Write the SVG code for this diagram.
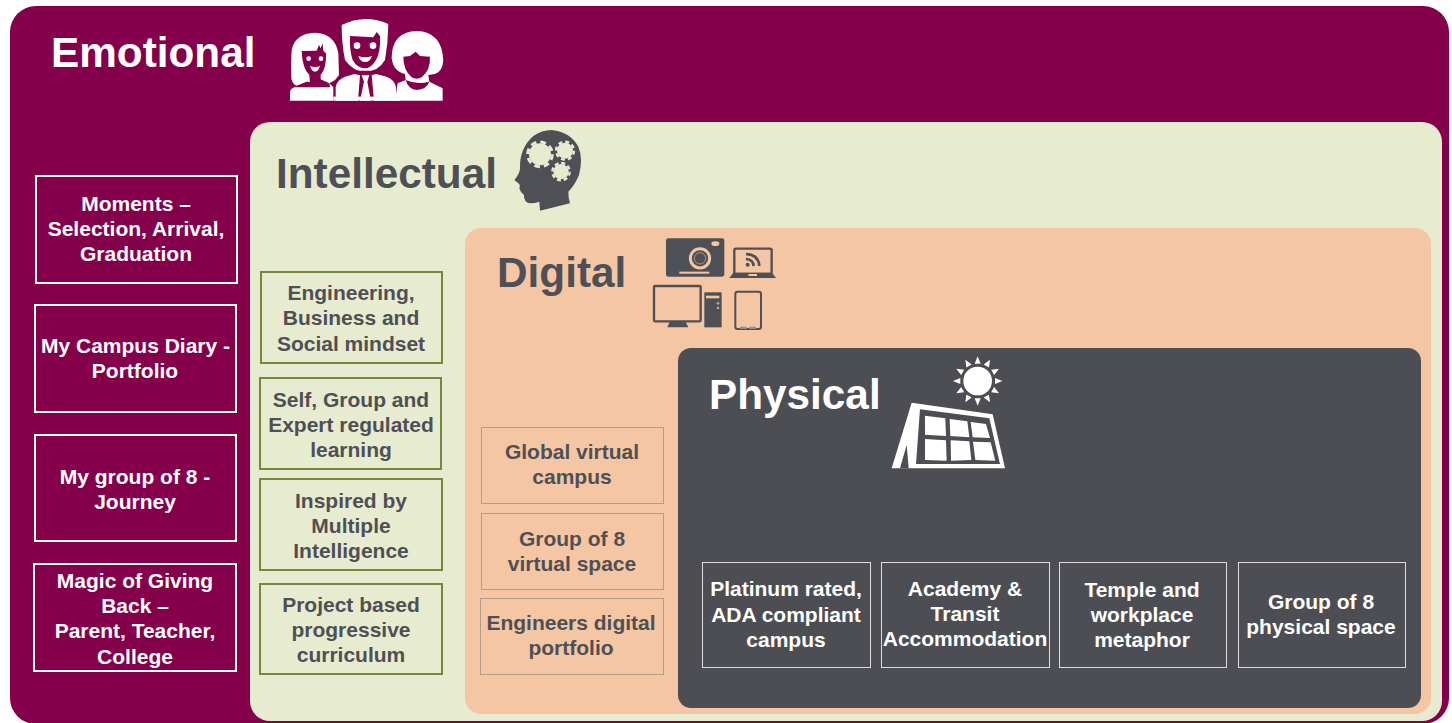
<svg xmlns="http://www.w3.org/2000/svg" width="1452" height="723" viewBox="0 0 1452 723">
<defs>
<style>
text{font-family:"Liberation Sans",Arial,sans-serif;font-weight:bold;text-anchor:middle}
.h{font-size:42.3px;text-anchor:start}
.t{font-size:21px}
.w{fill:#fff}
.d{fill:#4f5055}
.bw{fill:none;stroke:#fff;stroke-width:2}
.bg{fill:none;stroke:#76893a;stroke-width:2}
.bp{fill:none;stroke:#b39c88;stroke-width:1;transform:translate(.5px,.5px)}
.bs{fill:none;stroke:#dcdcde;stroke-width:1;transform:translate(.5px,.5px)}
</style>
<polygon id="ray" points="-9,-52 9,-52 0,-74" fill="#fff"/>
</defs>
<rect width="1452" height="723" fill="#fff"/>
<g id="emotional">
<rect x="10" y="6" width="1439" height="718" rx="26" fill="#85004b"/>
<text class="h w" x="51" y="67">Emotional</text>
<g transform="translate(270,0) scale(.3333)">
<path class="w" d="M60 302V275Q62 265 80 258Q66 250 64 235Q62 190 65 150Q75 100 135 98Q195 100 205 160L207 225L195 240L178 250L190 262V302Z"/>
<path fill="#85004b" d="M95 153L140 152L147 135L152 145L158 130L160 152L168 160Q170 205 152 225L152 238L178 250L120 250L118 225Q97 205 95 153Z"/>
<path fill="#85004b" d="M68 262L180 262L178 250L110 245Z"/>
<circle class="w" cx="116" cy="176" r="7"/><circle class="w" cx="153" cy="176" r="7"/>
<path class="w" d="M120 198Q135 204 150 198Q145 215 135 215Q125 215 120 198Z"/>
<path class="w" d="M215 75Q285 40 355 72L352 130L345 180Q325 215 285 215Q250 215 225 180Q215 130 215 75Z"/>
<path fill="#85004b" d="M240 108L310 112L320 96L330 108Q333 160 315 185Q300 205 285 205Q262 205 248 180Q238 150 240 108Z"/>
<circle class="w" cx="261" cy="137" r="10"/><circle class="w" cx="309" cy="137" r="10"/>
<path class="w" d="M265 168Q285 175 306 168Q300 186 285 186Q271 186 265 168Z"/>
<path fill="#85004b" d="M195 302V250Q200 225 250 212L320 212L385 235V302Z"/>
<path class="w" d="M197 302V262Q200 240 225 230L253 222L270 226L264 302ZM378 302V262Q375 240 350 230L318 222L305 226L312 302ZM275 226H298L292 245L303 302H270L282 245Z"/>
<rect class="w" x="190" y="290" width="200" height="12"/>
<path class="w" d="M365 175Q365 95 440 93Q515 95 520 180Q518 215 495 222L475 225L478 245L518 265V302H375L383 250L407 240L405 222Q370 215 365 175Z"/>
<path fill="#85004b" d="M400 170L420 168L437 155L450 168L480 170Q482 210 455 232Q440 240 425 232Q400 210 400 170Z"/>
<path fill="#85004b" d="M407 240Q440 255 478 245Q470 268 440 270Q415 268 407 240Z"/>
</g>
<g id="e1"><rect class="bw" x="36" y="176" width="201" height="107"/>
<text class="t w" x="136" y="211">Moments –</text><text class="t w" x="136" y="236">Selection, Arrival,</text><text class="t w" x="136" y="261">Graduation</text></g>
<g id="e2"><rect class="bw" x="35" y="305" width="201" height="107"/>
<text class="t w" x="135.500" y="353">My Campus Diary -</text><text class="t w" x="135" y="378">Portfolio</text></g>
<g id="e3"><rect class="bw" x="35" y="435" width="201" height="106"/>
<text class="t w" x="135" y="484">My group of 8 -</text><text class="t w" x="135" y="509">Journey</text></g>
<g id="e4"><rect class="bw" x="34" y="564" width="202" height="107"/>
<text class="t w" x="135" y="588">Magic of Giving</text><text class="t w" x="135" y="613">Back –</text><text class="t w" x="135" y="638">Parent, Teacher,</text><text class="t w" x="135" y="664">College</text></g>
</g>
<g id="intellectual">
<rect x="250" y="122" width="1192" height="599" rx="20" fill="#e7ebd0"/>
<text class="h d" x="276" y="188">Intellectual</text>
<g transform="translate(500,120) scale(.3333)">
<path class="d" d="M120 272L118 245Q90 255 78 245Q70 235 72 225Q60 215 58 205Q62 195 55 190L43 180Q60 160 60 145Q58 85 100 48Q125 30 155 30Q210 35 235 80Q250 115 237 165Q225 195 205 215Q205 235 210 250Z"/>
<g fill="#e7ebd0" stroke="#e7ebd0">
<circle cx="120" cy="103" r="33" stroke="none"/><circle cx="120" cy="103" r="37" fill="none" stroke-width="9" stroke-dasharray="17 12.060"/>
<circle cx="195" cy="92" r="24" stroke="none"/><circle cx="195" cy="92" r="27" fill="none" stroke-width="7" stroke-dasharray="12 9.200"/>
<circle cx="183" cy="155" r="23" stroke="none"/><circle cx="183" cy="155" r="26" fill="none" stroke-width="7" stroke-dasharray="12 8.420"/>
</g>
</g>
<g id="i1"><rect class="bg" x="261" y="272" width="181" height="91"/>
<text class="t d" x="351" y="300">Engineering,</text><text class="t d" x="351" y="325">Business and</text><text class="t d" x="351" y="351">Social mindset</text></g>
<g id="i2"><rect class="bg" x="260" y="378" width="181" height="91"/>
<text class="t d" x="351" y="407">Self, Group and</text><text class="t d" x="351" y="432">Expert regulated</text><text class="t d" x="351" y="457">learning</text></g>
<g id="i3"><rect class="bg" x="260" y="479" width="182" height="91"/>
<text class="t d" x="351" y="508">Inspired by</text><text class="t d" x="351" y="533">Multiple</text><text class="t d" x="351" y="558">Intelligence</text></g>
<g id="i4"><rect class="bg" x="260" y="584" width="182" height="90"/>
<text class="t d" x="351" y="612">Project based</text><text class="t d" x="351" y="637">progressive</text><text class="t d" x="351" y="662">curriculum</text></g>
</g>
<g id="digital">
<rect x="465" y="228" width="966" height="486" rx="16" fill="#f4c6a4"/>
<text class="h d" x="497" y="287">Digital</text>
<g transform="translate(640,230) scale(.3333)">
<rect class="d" x="78" y="25" width="175" height="115" rx="7"/>
<circle cx="180" cy="85" r="29" fill="none" stroke="#f4c6a4" stroke-width="9"/>
<circle cx="180" cy="85" r="17" fill="none" stroke="#a89489" stroke-width="3"/>
<ellipse cx="226" cy="41" rx="12" ry="7" fill="#f4c6a4"/>
<rect x="118" y="125" width="90" height="6" fill="#f4c6a4"/>
<rect x="283" y="56" width="112" height="76" rx="5" fill="none" stroke="#4f5055" stroke-width="7"/>
<path class="d" d="M280 128H396L408 144H268Z"/>
<rect x="325" y="132" width="26" height="6" fill="#f4c6a4"/>
<circle class="d" cx="323" cy="104" r="6"/>
<path d="M318 87Q339 88 341 108M318 72Q356 74 358 108" fill="none" stroke="#4f5055" stroke-width="8"/>
<rect x="42" y="168" width="140" height="106" rx="3" fill="none" stroke="#4f5055" stroke-width="7"/>
<path class="d" d="M90 274H136L145 292H82Z"/>
<rect class="d" x="193" y="187" width="52" height="105"/>
<rect x="198" y="197" width="40" height="8" fill="#f4c6a4"/>
<circle cx="234" cy="220" r="4" fill="#f4c6a4" opacity=".7"/><circle cx="234" cy="234" r="4" fill="#f4c6a4" opacity=".7"/>
<rect x="286" y="185" width="77" height="112" rx="7" fill="none" stroke="#4f5055" stroke-width="6"/>
<rect x="300" y="290" width="20" height="7" fill="#9c8f88"/><rect x="328" y="290" width="20" height="7" fill="#9c8f88"/>
</g>
<g id="d1"><rect class="bp" x="481" y="427" width="182" height="76"/>
<text class="t d" x="572" y="459">Global virtual</text><text class="t d" x="572" y="484">campus</text></g>
<g id="d2"><rect class="bp" x="481" y="513" width="182" height="76"/>
<text class="t d" x="572" y="546">Group of 8</text><text class="t d" x="572" y="571">virtual space</text></g>
<g id="d3"><rect class="bp" x="480" y="598" width="183" height="76"/>
<text class="t d" x="571" y="630">Engineers digital</text><text class="t d" x="571" y="655">portfolio</text></g>
</g>
<g id="physical">
<rect x="678" y="348" width="743" height="360" rx="13" fill="#4d4e53"/>
<text class="h w" x="709" y="409">Physical</text>
<g transform="translate(880,350) scale(.3333)">
<circle class="w" cx="293" cy="93" r="43"/>
<g transform="translate(293,93)">
<use href="#ray"/><use href="#ray" transform="rotate(30)"/><use href="#ray" transform="rotate(60)"/><use href="#ray" transform="rotate(90)"/><use href="#ray" transform="rotate(120)"/><use href="#ray" transform="rotate(150)"/><use href="#ray" transform="rotate(180)"/><use href="#ray" transform="rotate(210)"/><use href="#ray" transform="rotate(240)"/><use href="#ray" transform="rotate(270)"/><use href="#ray" transform="rotate(300)"/><use href="#ray" transform="rotate(330)"/>
</g>
<path class="w" d="M95 158L338 193L375 355H35Z"/>
<path fill="#4d4e53" d="M120 178L328 205L360 342H108Z"/>
<path fill="#4d4e53" d="M80 285L86 355H60Z"/>
<path class="w" d="M135 197L196 205L198 258L135 254ZM209 207L262 214L268 262L211 258ZM272 216L318 222L330 264L278 262ZM135 267L198 271L200 332L135 330ZM212 271L268 274L274 330L213 332ZM279 275L332 277L346 332L286 330Z"/>
</g>
<g id="p1"><rect class="bs" x="702" y="562" width="168" height="105"/>
<text class="t w" x="786" y="596">Platinum rated,</text><text class="t w" x="786" y="622">ADA compliant</text><text class="t w" x="786" y="647">campus</text></g>
<g id="p2"><rect class="bs" x="881" y="562" width="168" height="105"/>
<text class="t w" x="965" y="596">Academy &amp;</text><text class="t w" x="965" y="621">Transit</text><text class="t w" x="965" y="646">Accommodation</text></g>
<g id="p3"><rect class="bs" x="1059" y="562" width="167" height="105"/>
<text class="t w" x="1142" y="597">Temple and</text><text class="t w" x="1142" y="622">workplace</text><text class="t w" x="1142" y="647">metaphor</text></g>
<g id="p4"><rect class="bs" x="1238" y="562" width="167" height="105"/>
<text class="t w" x="1321" y="609">Group of 8</text><text class="t w" x="1321" y="634">physical space</text></g>
</g>
<g id="connectors"/>
</svg>
